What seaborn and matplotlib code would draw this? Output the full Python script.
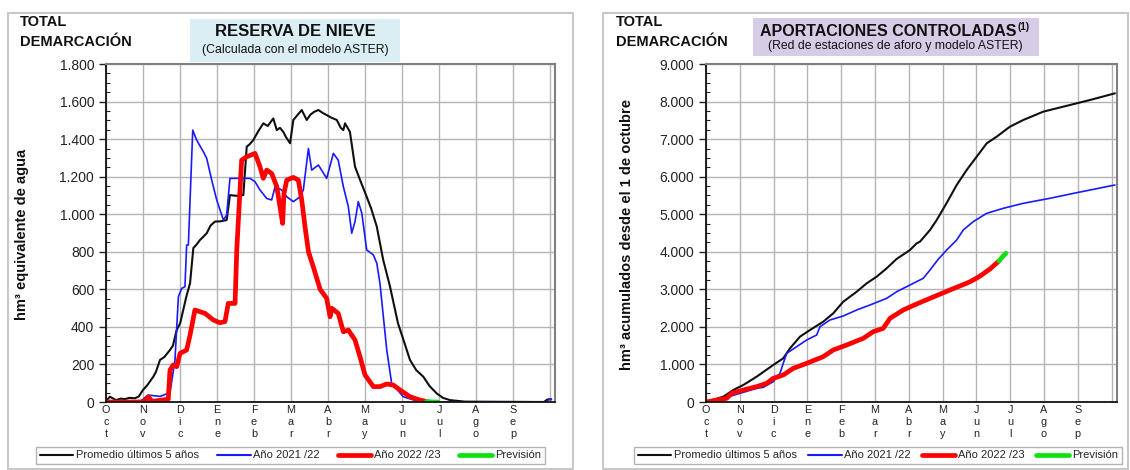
import numpy as np
import pandas as pd
import matplotlib
matplotlib.use("Agg")
import matplotlib.pyplot as plt
import seaborn as sns
from matplotlib.lines import Line2D
from matplotlib.patches import Rectangle
from matplotlib.ticker import FuncFormatter, MultipleLocator

sns.set_style("white")
plt.rcParams['font.family'] = ['Liberation Sans', 'DejaVu Sans']

# ---------------- data ----------------
month_labels = ["O\nc\nt", "N\no\nv", "D\ni\nc", "E\nn\ne", "F\ne\nb", "M\na\nr",
                "A\nb\nr", "M\na\ny", "J\nu\nn", "J\nu\nl", "A\ng\no", "S\ne\np", ""]
month_pos = [0, 30.4, 60.8, 91.3, 121.7, 152.1, 182.5, 212.9, 243.3, 273.8, 304.2, 334.6, 365]

# Snow reserve (hm3 water equivalent), x = day of hydrological year
snow_avg_day = [0, 0.6, 3.3, 8.2, 12, 15.6, 19, 23.9, 27, 30.4, 34, 38.9, 41, 44.4, 48, 52.6, 55,
                58.1, 61, 63.5, 66, 69.1, 71.8, 74, 77.3, 80, 82.8, 86, 89.6, 94, 99.2, 101.9,
                107, 112.9, 115.7, 118, 121.1, 125, 129.3, 133, 137.5, 140.4, 143, 145.7,
                148, 151.3, 154, 157, 160.9, 165, 168, 171, 174.6, 178, 181.4, 185, 189.7,
                193, 195.1, 196.5, 200.5, 204.7, 209, 214.3, 218, 222.6, 227.9, 233.5, 240,
                249.9, 255, 260.8, 266, 271.8, 277, 282.8, 295, 360, 363, 366]
snow_avg_val = [5, 10, 28, 10, 18, 15, 22, 20, 30, 64, 90, 135, 160, 224, 240, 277, 300,
                383, 420, 490, 560, 633, 820, 835, 863, 880, 899, 940, 961, 962, 969, 1102,
                1098, 1102, 1360, 1372, 1395, 1440, 1484, 1470, 1510, 1448, 1460, 1439,
                1410, 1378, 1502, 1525, 1555, 1502, 1530, 1545, 1555, 1540, 1528, 1515, 1502,
                1460, 1448, 1484, 1439, 1253, 1180, 1093, 1030, 934, 756, 614, 420,
                224, 170, 135, 85, 46, 22, 10, 2, 0, 14, 14]

snow_2122_day = [0, 27.9, 34.5, 44.4, 52.6, 56.7, 59.5, 62.2, 64.9, 66.3, 67.7, 71.3, 74.5, 80,
                 82.8, 86.9, 91, 96.5, 99.2, 101.9, 112.7, 118.4, 122.5, 126.6, 132.1, 136.2,
                 139, 144.4, 148.6, 154, 159.5, 162.2, 166.4, 169.1, 174.6, 181.4, 186.9, 190.9,
                 195.1, 199.2, 202, 204.7, 207.4, 210.3, 214.3, 219.8, 222.6, 225.2, 230.8,
                 234.8, 244.4, 258.2, 362, 364, 366]
snow_2122_val = [0, 0, 37, 30, 50, 224, 560, 605, 614, 836, 836, 1448, 1395, 1333,
                 1297, 1182, 1076, 969, 996, 1191, 1191, 1191, 1173, 1129, 1084, 1076,
                 1147, 1129, 1093, 1067, 1093, 1129, 1350, 1235, 1262, 1191, 1324, 1288,
                 1147, 1040, 899, 961, 1067, 1005, 810, 783, 739, 632, 277,
                 100, 28, 0, 0, 14, 14]

snow_2223_day = [0, 27.9, 32.1, 34.8, 37.8, 51.2, 52.6, 55.3, 58.1, 60.9, 66.3, 69.1, 73.1, 77.3,
                 81.4, 88.2, 93.7, 97.8, 100.5, 106.1, 107.5, 111.5, 115.7, 122.5, 126.6, 129.3,
                 132.1, 136.2, 140.4, 143, 145.2, 146.3, 148.6, 154, 158.1, 160.9, 163.6, 166.4,
                 170.4, 176, 181.4, 184.2, 185.6, 190.9, 195.1, 199.2, 204.7, 208.8, 212.9,
                 219.8, 225.2, 230.8, 236.2, 241.7, 249.9, 258.2, 263.6]
snow_2223_val = [0, 0, 5, 28, 3, 15, 170, 197, 188, 259, 277, 357, 490, 481,
                 472, 437, 422, 428, 525, 525, 810, 1288, 1306, 1324, 1253, 1191,
                 1235, 1217, 1147, 1040, 951, 1111, 1182, 1196, 1182, 1076, 934, 801,
                 720, 600, 552, 454, 499, 472, 374, 383, 330, 241, 144,
                 82, 82, 96, 90, 64, 28, 10, 3]

snow_prev_day = [263.6, 268, 273]
snow_prev_val = [3, 0, 0]

# Controlled inflows (hm3 accumulated since 1 October)
flow_avg_day = [0, 15.6, 24.6, 33.6, 45.6, 60.5, 69.5, 75.6, 84.6, 93.6, 105.5, 114.5, 123.5,
                135.6, 144.6, 153.6, 162.6, 171.6, 183.6, 189.6, 192.6, 201.6, 207.6, 216.6,
                225.6, 234.6, 243.6, 252.6, 261.6, 273.5, 285.5, 303.5, 321.5, 345.5, 368]
flow_avg_val = [0, 142, 320, 453, 675, 985, 1163, 1429, 1740, 1917, 2139, 2361, 2670,
                2936, 3160, 3337, 3560, 3810, 4047, 4226, 4270, 4580, 4846, 5300,
                5778, 6178, 6532, 6887, 7065, 7331, 7509, 7731, 7864, 8041, 8219]

flow_2122_day = [0, 15.6, 30.6, 45.6, 51.6, 60.5, 66.6, 69.5, 72.6, 81.6, 90.6, 99.6, 102.6,
                 111.6, 123.5, 135.6, 147.6, 162.6, 171.6, 183.6, 195.5, 201.6, 209, 216.6,
                 225.6, 231.5, 240.5, 252.6, 267.5, 285.5, 309.5, 333.6, 368]
flow_2122_val = [0, 98, 231, 365, 391, 541, 764, 1030, 1296, 1473, 1651, 1784, 2006,
                 2184, 2290, 2450, 2583, 2760, 2937, 3116, 3293, 3515, 3800, 4047,
                 4314, 4580, 4802, 5024, 5157, 5290, 5424, 5573, 5778]

flow_2223_day = [0, 18.6, 23.1, 33.6, 45.6, 54.6, 60.5, 69.5, 78.5, 90.6, 105.5, 114.5, 126.6,
                 141.5, 150.5, 159.5, 165.6, 177.5, 189.6, 201.6, 219.5, 228.5, 237.5, 246.5,
                 255.5, 263.6]
flow_2223_val = [0, 98, 231, 320, 409, 497, 630, 719, 896, 1030, 1207, 1385, 1518,
                 1695, 1873, 1962, 2228, 2450, 2610, 2760, 2982, 3090, 3200, 3350,
                 3540, 3755]

flow_prev_day = [263.6, 266.9, 269.9]
flow_prev_val = [3755, 3870, 3960]

legend_labels = ["Promedio últimos 5 años", "Año 2021 /22", "Año 2022 /23", "Previsión"]

# ---------------- styling ----------------
C_AVG, C_2122, C_2223, C_PREV = "#101010", "#1a1aff", "#ff0000", "#10e010"
LW = {"avg": 1.5, "2122": 1.2, "2223": 3.4, "prev": 3.4}

W, H = 1130, 470
fig = plt.figure(figsize=(W / 100, H / 100), dpi=100)
fig.patch.set_facecolor("white")


def fx(px):
    return px / W


def fy(py):
    return 1 - py / H


def thousands(v, p):
    return f"{int(round(v)):,}".replace(",", ".")


def style_axes(ax, ymax, ystep, yminor, xmax):
    ax.set_xlim(0, xmax)
    ax.set_ylim(0, ymax)
    ax.set_xticks(month_pos)
    ax.set_xticklabels(month_labels, fontsize=7.8, linespacing=1.28, color="#222222")
    ax.yaxis.set_major_locator(MultipleLocator(ystep))
    ax.yaxis.set_minor_locator(MultipleLocator(yminor))
    ax.yaxis.set_major_formatter(FuncFormatter(thousands))
    ax.tick_params(axis="y", which="major", labelsize=10, length=5, width=1,
                   direction="out", left=True, colors="#222222")
    ax.tick_params(axis="y", which="minor", length=3, width=0.8, direction="in", left=True)
    ax.tick_params(axis="x", which="major", length=0, pad=2)
    ax.grid(True, which="major", color="#b4b4b4", lw=1.0)
    ax.set_axisbelow(True)
    for s in ("left", "bottom"):
        ax.spines[s].set_color("#111111")
        ax.spines[s].set_linewidth(1.3)
    for s in ("top", "right"):
        ax.spines[s].set_color("#808080")
        ax.spines[s].set_linewidth(1.5)


def draw(ax, x, y, color, lw):
    df = pd.DataFrame({"x": x, "y": y})
    sns.lineplot(data=df, x="x", y="y", ax=ax, color=color, lw=lw,
                 estimator=None, sort=False, legend=False)
    ax.set_xlabel("")
    ax.set_ylabel("")


# panel frames
for (x0, x1) in [(8, 573), (603, 1128)]:
    fig.patches.append(Rectangle((fx(x0), fy(469)), fx(x1) - fx(x0), fy(13) - fy(469),
                                 transform=fig.transFigure, fill=False,
                                 edgecolor="#c8c8c8", lw=1.5))

# ---- left panel ----
axL = fig.add_axes([fx(106), fy(402), fx(555) - fx(106), fy(64) - fy(402)])
draw(axL, snow_avg_day, snow_avg_val, C_AVG, LW["avg"])
draw(axL, snow_2122_day, snow_2122_val, C_2122, LW["2122"])
draw(axL, snow_2223_day, snow_2223_val, C_2223, LW["2223"])
draw(axL, snow_prev_day, snow_prev_val, C_PREV, LW["prev"])
style_axes(axL, 1800, 200, 50, 369.1)
fig.text(fx(22), fy(234), "hm³ equivalente de agua", rotation=90, ha="center", va="center",
         fontsize=10.5, fontweight="bold", color="#111111")

# ---- right panel ----
axR = fig.add_axes([fx(706), fy(402), fx(1116.7) - fx(706), fy(64) - fy(402)])
draw(axR, flow_avg_day, flow_avg_val, C_AVG, LW["avg"])
draw(axR, flow_2122_day, flow_2122_val, C_2122, LW["2122"])
draw(axR, flow_2223_day, flow_2223_val, C_2223, LW["2223"])
draw(axR, flow_prev_day, flow_prev_val, C_PREV, LW["prev"])
style_axes(axR, 9000, 1000, 250, 369.6)
fig.text(fx(627), fy(234), "hm³ acumulados desde el 1 de octubre", rotation=90, ha="center",
         va="center", fontsize=10.5, fontweight="bold", color="#111111")

# headers
for x0 in (20, 616):
    fig.text(fx(x0), fy(22), "TOTAL", ha="left", va="center", fontsize=10.5,
             fontweight="bold", color="#111111")
    fig.text(fx(x0), fy(42), "DEMARCACIÓN", ha="left", va="center", fontsize=10.5,
             fontweight="bold", color="#111111")

# title boxes
fig.patches.append(Rectangle((fx(190), fy(62)), fx(400) - fx(190), fy(19) - fy(62),
                             transform=fig.transFigure, facecolor="#daeef3", edgecolor="none"))
fig.text(fx(295), fy(32), "RESERVA DE NIEVE", ha="center", va="center", fontsize=12,
         fontweight="bold", color="#111111")
fig.text(fx(295), fy(50), "(Calculada con el modelo ASTER)", ha="center", va="center",
         fontsize=8.8, color="#111111")

fig.patches.append(Rectangle((fx(753), fy(56)), fx(1039) - fx(753), fy(18) - fy(56),
                             transform=fig.transFigure, facecolor="#d6cce6", edgecolor="none"))
fig.text(fx(888), fy(31), "APORTACIONES CONTROLADAS", ha="center",
         va="center", fontsize=11.5, fontweight="bold", color="#111111")
fig.text(fx(1017), fy(27), "(1)", ha="left", va="center", fontsize=7,
         fontweight="bold", color="#111111")
fig.text(fx(895), fy(46), "(Red de estaciones de aforo y modelo ASTER)", ha="center",
         va="center", fontsize=8.8, color="#111111")

# legends
handles = [Line2D([], [], color=C_AVG, lw=1.5), Line2D([], [], color=C_2122, lw=1.5),
           Line2D([], [], color=C_2223, lw=3.4), Line2D([], [], color=C_PREV, lw=3.4)]
for (x0, x1) in [(36, 545), (634, 1122)]:
    leg = fig.legend(handles, legend_labels, loc="center", ncol=4, mode="expand",
                     bbox_to_anchor=(fx(x0), fy(467), fx(x1) - fx(x0), fy(444) - fy(467)),
                     bbox_transform=fig.transFigure, fontsize=8, frameon=True,
                     fancybox=False, edgecolor="#a0a0a0", handlelength=3.0,
                     handletextpad=0.25, columnspacing=0.6, borderaxespad=0, borderpad=0.35)
    leg.get_frame().set_linewidth(1.0)

fig.savefig("out.png", dpi=100, facecolor="white")
